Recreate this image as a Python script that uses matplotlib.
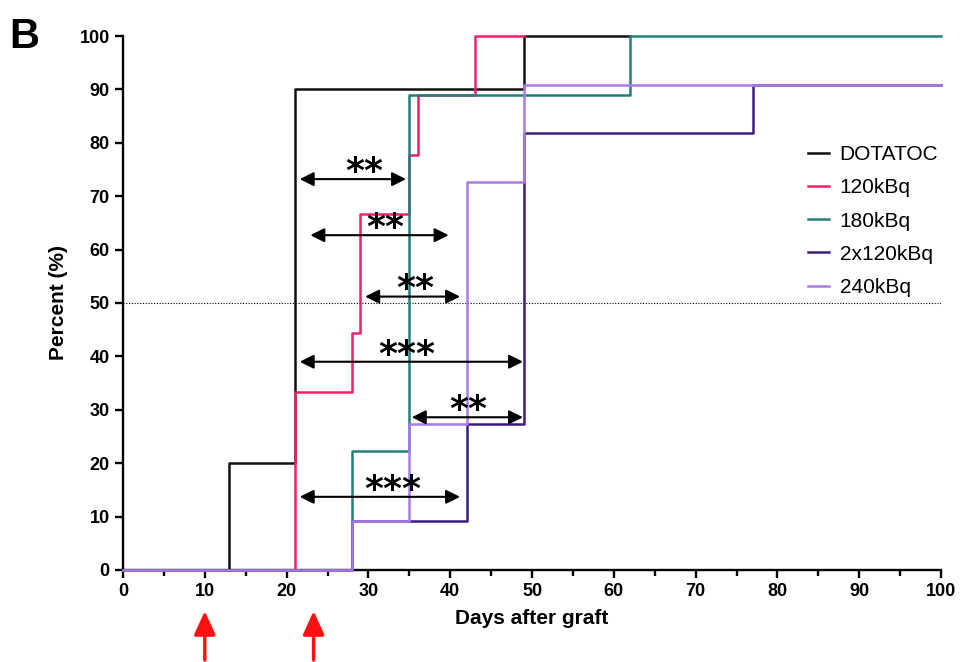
import numpy as np
import matplotlib
matplotlib.use("Agg")
import matplotlib.pyplot as plt

plt.rcParams['font.family'] = ['Liberation Sans', 'DejaVu Sans']

# cumulative incidence per group (step, post)
days_dotatoc = [0, 13, 21, 49, 62]
pct_dotatoc = [0, 20, 90, 100, 100]
days_120 = [0, 21, 28, 29, 35, 36, 43, 49]
pct_120 = [0, 33.3, 44.4, 66.7, 77.8, 88.9, 100, 100]
days_180 = [0, 28, 35, 62, 100]
pct_180 = [0, 22.2, 88.9, 100, 100]
days_2x120 = [0, 28, 42, 49, 77, 100]
pct_2x120 = [0, 9.1, 27.3, 81.8, 90.9, 90.9]
days_240 = [0, 28, 35, 42, 49, 100]
pct_240 = [0, 9.1, 27.3, 72.7, 90.9, 90.9]

groups = ['DOTATOC', '120kBq', '180kBq', '2x120kBq', '240kBq']
colors = ['#111111', '#F0206E', '#1E807A', '#3E1A7E', '#A77AEA']

# significance brackets
sig_y = [73.2, 62.7, 51.2, 39.0, 28.6, 13.7]
sig_x0 = [21.6, 22.9, 29.6, 21.6, 35.3, 21.6]
sig_x1 = [34.6, 39.8, 41.2, 48.9, 48.9, 41.2]
sig_text_x = [29.5, 32.0, 35.7, 34.7, 42.2, 33.0]
sig_labels = ['**', '**', '**', '***', '**', '***']

treatment_days = [10, 23.3]

fig = plt.figure(figsize=(9.64, 6.62), dpi=100)
ax = fig.add_axes([0.1276, 0.139, 0.8486, 0.8066])

series = [(days_dotatoc, pct_dotatoc), (days_120, pct_120), (days_180, pct_180),
          (days_2x120, pct_2x120), (days_240, pct_240)]
for (d, p), name, c in zip(series, groups, colors):
    ax.step(d, p, where='post', color=c, lw=1.8, label=name, clip_on=False, zorder=3)

ax.plot([0, 100], [50, 50], color='black', lw=0.8, ls=(0, (1, 1.5)), zorder=1)

for y, x0, x1, tx, lab in zip(sig_y, sig_x0, sig_x1, sig_text_x, sig_labels):
    ax.annotate('', xy=(x0, y), xytext=(x1, y),
                arrowprops=dict(arrowstyle='<|-|>,head_length=0.6,head_width=0.3',
                                mutation_scale=14, lw=1.5, color='black',
                                shrinkA=0, shrinkB=0), zorder=5)
    ax.annotate(lab, xy=(tx, y), xytext=(0, -2), textcoords='offset points',
                ha='center', va='baseline', fontsize=26, fontweight='bold',
                family='DejaVu Sans', zorder=6)

for d in treatment_days:
    ax.annotate('', xy=(d, 0.077), xytext=(d, 0.003),
                xycoords=('data', 'figure fraction'),
                arrowprops=dict(arrowstyle='-|>,head_length=0.55,head_width=0.25',
                                mutation_scale=26, lw=2.5, color='#FF1010',
                                shrinkA=0, shrinkB=0), annotation_clip=False)

ax.set_xlim(0, 100)
ax.set_ylim(0, 100)
ax.set_xticks(np.arange(0, 101, 10))
ax.set_xticks(np.arange(5, 100, 10), minor=True)
ax.set_yticks(np.arange(0, 101, 10))
for s in ['top', 'right']:
    ax.spines[s].set_visible(False)
for s in ['left', 'bottom']:
    ax.spines[s].set_linewidth(1.7)
ax.tick_params(which='major', length=6, width=1.7, labelsize=13)
ax.tick_params(which='minor', length=4, width=1.7)
for lbl in ax.get_xticklabels() + ax.get_yticklabels():
    lbl.set_fontweight('bold')

ax.set_xlabel('Days after graft', fontsize=15, fontweight='bold', labelpad=6)
ax.set_ylabel('Percent (%)', fontsize=15, fontweight='bold', labelpad=8)

ax.legend(loc='upper left', bbox_to_anchor=(0.825, 0.815), frameon=False, fontsize=15,
          handlelength=1.0, handletextpad=0.5, labelspacing=0.68, borderpad=0)

fig.text(0.01, 0.975, 'B', fontsize=30, fontweight='bold', va='top', ha='left')

fig.savefig('out.png', dpi=100)
